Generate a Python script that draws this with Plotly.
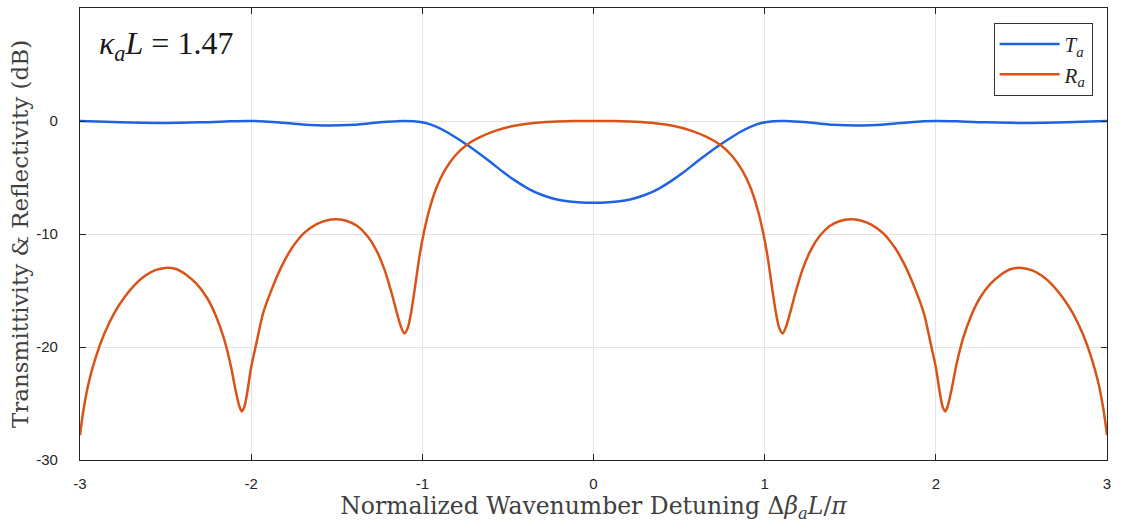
import plotly.graph_objects as go

# Normalized detuning (Δβ_a L / π) and transmittivity T_a in dB
x_t = [-3.0, -2.85, -2.7, -2.5, -2.3, -2.15, -2.0, -1.85, -1.7, -1.55,
       -1.4, -1.25, -1.12, -1.05, -0.98, -0.92, -0.86, -0.8, -0.735, -0.67,
       -0.6, -0.53, -0.455, -0.38, -0.3, -0.22, -0.14, -0.07, 0.0,
       0.07, 0.14, 0.22, 0.3, 0.38, 0.455, 0.53, 0.6, 0.67, 0.735,
       0.8, 0.86, 0.92, 0.98, 1.05, 1.12, 1.25, 1.4, 1.55, 1.7,
       1.85, 2.0, 2.15, 2.3, 2.5, 2.7, 2.85, 3.0]
t_db = [0.0, -0.06, -0.13, -0.17, -0.12, -0.04, 0.0, -0.1, -0.3, -0.4,
        -0.33, -0.12, 0.0, -0.03, -0.18, -0.5, -0.95, -1.5, -2.15, -2.85,
        -3.65, -4.5, -5.3, -6.0, -6.55, -6.92, -7.13, -7.22, -7.24,
        -7.22, -7.13, -6.92, -6.55, -6.0, -5.3, -4.5, -3.65, -2.85, -2.15,
        -1.5, -0.95, -0.5, -0.18, -0.03, 0.0, -0.12, -0.33, -0.4, -0.3,
        -0.1, 0.0, -0.04, -0.12, -0.17, -0.13, -0.06, 0.0]

# Reflectivity R_a in dB
x_r = [-3.0, -2.98, -2.95, -2.91, -2.86, -2.8, -2.74, -2.68, -2.62, -2.56,
       -2.5, -2.44, -2.38, -2.32, -2.26, -2.21, -2.16, -2.12, -2.09, -2.07,
       -2.055, -2.04, -2.025, -2.0, -1.97, -1.93, -1.88, -1.82, -1.76, -1.69,
       -1.62, -1.56, -1.5, -1.44, -1.38, -1.32, -1.27, -1.22, -1.18, -1.15,
       -1.125, -1.105, -1.085, -1.065, -1.04, -1.015, -0.99, -0.96, -0.92, -0.87,
       -0.81, -0.74, -0.66, -0.57, -0.47, -0.36, -0.24, -0.12, 0.0,
       0.12, 0.24, 0.36, 0.47, 0.57, 0.66, 0.74, 0.81,
       0.87, 0.92, 0.96, 0.99, 1.015, 1.04, 1.065, 1.085, 1.105, 1.125,
       1.15, 1.18, 1.22, 1.27, 1.32, 1.38, 1.44, 1.5, 1.56, 1.62,
       1.69, 1.76, 1.82, 1.88, 1.93, 1.97, 2.0, 2.025, 2.04, 2.055,
       2.07, 2.09, 2.12, 2.16, 2.21, 2.26, 2.32, 2.38, 2.44, 2.5,
       2.56, 2.62, 2.68, 2.74, 2.8, 2.86, 2.91, 2.95, 2.98, 3.0]
r_db = [-27.8, -25.6, -23.2, -21.0, -18.9, -17.0, -15.6, -14.5, -13.7, -13.2,
        -13.0, -13.1, -13.6, -14.4, -15.6, -17.1, -19.2, -21.6, -23.9, -25.2,
        -25.7, -25.3, -24.2, -21.8, -19.7, -17.0, -14.9, -12.8, -11.2, -9.9,
        -9.15, -8.8, -8.7, -8.85, -9.3, -10.2, -11.4, -13.2, -15.2, -16.9,
        -18.2, -18.8, -18.3, -16.9, -14.4, -11.8, -9.8, -7.9, -6.0, -4.4,
        -3.1, -2.1, -1.4, -0.85, -0.45, -0.2, -0.07, -0.01, 0.0,
        -0.01, -0.07, -0.2, -0.45, -0.85, -1.4, -2.1, -3.1,
        -4.4, -6.0, -7.9, -9.8, -11.8, -14.4, -16.9, -18.3, -18.8, -18.2,
        -16.9, -15.2, -13.2, -11.4, -10.2, -9.3, -8.85, -8.7, -8.8, -9.15,
        -9.9, -11.2, -12.8, -14.9, -17.0, -19.7, -21.8, -24.2, -25.3, -25.7,
        -25.2, -23.9, -21.6, -19.2, -17.1, -15.6, -14.4, -13.6, -13.1, -13.0,
        -13.2, -13.7, -14.5, -15.6, -17.0, -18.9, -21.0, -23.2, -25.6, -27.8]

x_ticks = [-3, -2, -1, 0, 1, 2, 3]
y_ticks = [-30, -20, -10, 0, 10]

BLUE = "#1f63e0"
ORANGE = "#d95319"
AXIS = "#262626"
SERIF = "DejaVu Serif, Liberation Serif, serif"
SANS = "Liberation Sans, Arial, sans-serif"

fig = go.Figure()
fig.add_trace(go.Scatter(x=x_t, y=t_db, mode="lines", name="<i>T<sub>a</sub></i>",
                         line=dict(color=BLUE, width=2.5, shape="spline", smoothing=0.9)))
fig.add_trace(go.Scatter(x=x_r, y=r_db, mode="lines", name="<i>R<sub>a</sub></i>",
                         line=dict(color=ORANGE, width=2.5, shape="spline", smoothing=0.8)))

axis_common = dict(
    showline=True, linecolor=AXIS, linewidth=1.3, mirror="ticks",
    ticks="inside", ticklen=6, tickcolor=AXIS, tickwidth=1,
    showgrid=True, gridcolor="#e3e3e3", gridwidth=1, zeroline=False,
    tickfont=dict(family=SANS, size=15, color=AXIS),
)

fig.update_xaxes(range=[-3, 3], tickvals=x_ticks, ticktext=[str(v) for v in x_ticks],
                 title=dict(text="Normalized Wavenumber Detuning Δ<i>β<sub>a</sub>L</i>/<i>π</i>",
                            font=dict(family=SERIF, size=23.5, color="#404040"), standoff=4),
                 ticklabelstandoff=10, **axis_common)
fig.update_yaxes(range=[-30, 10], tickvals=y_ticks, ticktext=[str(v) for v in y_ticks],
                 title=dict(text="Transmittivity &amp; Reflectivity (dB)",
                            font=dict(family=SERIF, size=23, color="#404040"), standoff=1),
                 ticklabelstandoff=18, **axis_common)

fig.add_annotation(x=0.017, y=0.918, xref="paper", yref="paper", xanchor="left", yanchor="middle",
                   text="<i>κ<sub>a</sub>L</i> = 1.47", showarrow=False,
                   font=dict(family="Liberation Serif, serif", size=32, color="#1a1a1a"))

fig.update_layout(
    width=1122, height=531,
    margin=dict(l=80, r=15, t=8, b=71),
    paper_bgcolor="white", plot_bgcolor="white",
    legend=dict(x=0.986, y=0.967, xanchor="right", yanchor="top",
                bgcolor="white", bordercolor="#333333", borderwidth=1,
                font=dict(family="Liberation Serif, serif", size=21, color="#262626"),
                itemwidth=60, tracegroupgap=0),
    showlegend=True,
)

fig.write_html("out.html")
